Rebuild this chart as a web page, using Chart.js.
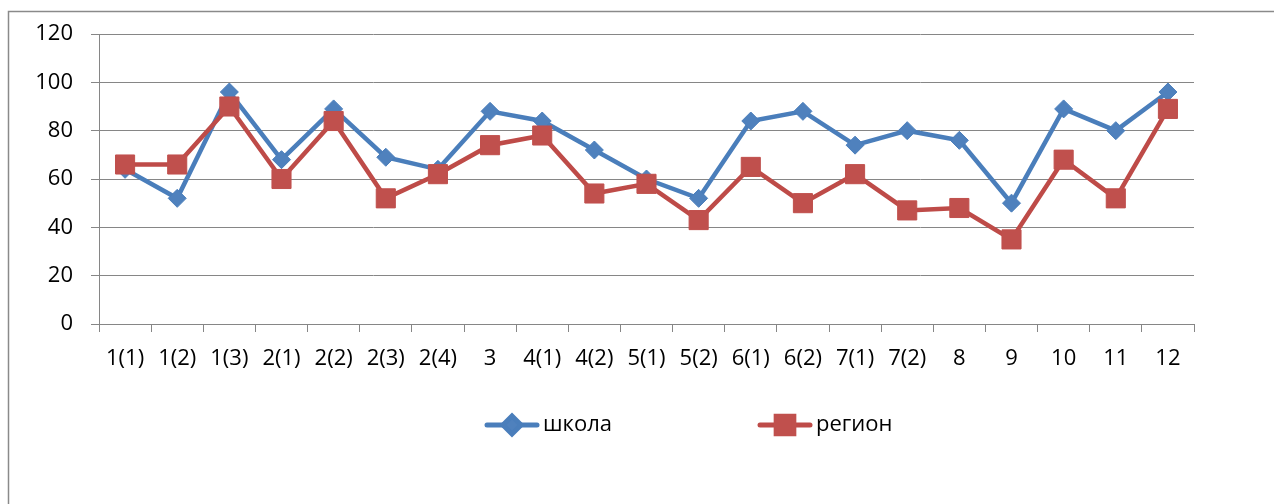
<!DOCTYPE html>
<html>
<head>
<meta charset="utf-8">
<script src="https://cdn.jsdelivr.net/npm/chart.js@4/dist/chart.umd.min.js"></script>
<style>
    html, body { margin: 0; padding: 0; background: #ffffff; }
    #wrap { position: relative; width: 1274px; height: 504px; }
</style>
</head>
<body>
<div id="wrap"><canvas id="lineChart" width="1274" height="504"></canvas></div>
<script>
var categories = ['1(1)', '1(2)', '1(3)', '2(1)', '2(2)', '2(3)', '2(4)', '3', '4(1)', '4(2)', '5(1)',
    '5(2)', '6(1)', '6(2)', '7(1)', '7(2)', '8', '9', '10', '11', '12'];
var schoolValues = [64, 52, 96, 68, 89, 69, 64, 88, 84, 72, 60, 52, 84, 88, 74, 80, 76, 50, 89, 80, 96];
var regionValues = [66, 66, 90, 60, 84, 52, 62, 74, 78, 54, 58, 43, 65, 50, 62, 47, 48, 35, 68, 52, 89];
var seriesNames = ['школа', 'регион'];
var yTicks = [0, 20, 40, 60, 80, 100, 120];

var fontFamily = '"Open Sans", "Noto Sans", sans-serif';
var gridColor = '#868686';

// outer frame of the chart (only left/top edges are inside the picture)
var framePlugin = {
    id: 'frame',
    beforeDraw: function (chart) {
        var ctx = chart.ctx;
        ctx.save();
        ctx.strokeStyle = '#8a8a8a';
        ctx.lineWidth = 1.5;
        ctx.strokeRect(8.5, 11.5, 1400, 700);
        ctx.restore();
    }
};

// excel-like legend: line with marker, then the name
var legendPlugin = {
    id: 'lineLegend',
    afterDraw: function (chart) {
        var ctx = chart.ctx;
        var starts = [484, 757];
        var y = 425;
        ctx.save();
        chart.data.datasets.forEach(function (ds, i) {
            var x = starts[i];
            ctx.strokeStyle = ds.borderColor;
            ctx.lineWidth = 5;
            ctx.lineCap = 'round';
            ctx.beginPath();
            ctx.moveTo(x + 3, y);
            ctx.lineTo(x + 53, y);
            ctx.stroke();
            ctx.fillStyle = ds.pointBackgroundColor;
            ctx.strokeStyle = ds.pointBorderColor;
            Chart.helpers.drawPoint(ctx, {
                pointStyle: ds.pointStyle,
                radius: i === 0 ? 9 : 12.5,
                rotation: 0,
                borderWidth: 1
            }, x + 28, y);
            ctx.fillStyle = '#000000';
            ctx.font = '22px ' + fontFamily;
            ctx.textBaseline = 'middle';
            ctx.textAlign = 'left';
            ctx.fillText(ds.label, x + 59, y);
        });
        ctx.restore();
    }
};

document.addEventListener('DOMContentLoaded', function () {
    var lineChart = new Chart(document.getElementById('lineChart'), {
        type: 'line',
        data: {
            labels: categories,
            datasets: [{
                label: seriesNames[0],
                data: schoolValues,
                borderColor: '#4a7ebb',
                borderWidth: 4.5,
                pointStyle: 'rectRot',
                pointRadius: 9,
                pointBorderWidth: 1,
                pointBackgroundColor: '#4f81bd',
                pointBorderColor: '#4a7ebb',
                tension: 0,
                order: 1
            }, {
                label: seriesNames[1],
                data: regionValues,
                borderColor: '#be4b48',
                borderWidth: 4.5,
                pointStyle: 'rect',
                pointRadius: 13.5,
                pointBorderWidth: 1,
                pointBackgroundColor: '#c0504d',
                pointBorderColor: '#c0504d',
                tension: 0,
                order: 0
            }]
        },
        options: {
            responsive: false,
            animation: false,
            layout: {
                padding: { top: 34, right: 80, bottom: 120, left: 0 }
            },
            plugins: {
                legend: { display: false },
                tooltip: { enabled: false }
            },
            scales: {
                x: {
                    offset: true,
                    grid: {
                        offset: true,
                        drawOnChartArea: false,
                        drawTicks: true,
                        tickLength: 8,
                        color: gridColor
                    },
                    border: { display: true, color: gridColor },
                    ticks: {
                        autoSkip: false,
                        maxRotation: 0,
                        padding: 14,
                        color: '#000000',
                        font: { family: fontFamily, size: 22 }
                    },
                    afterFit: function (scale) {
                        scale.height = 60;
                    }
                },
                y: {
                    min: yTicks[0],
                    max: yTicks[yTicks.length - 1],
                    afterBuildTicks: function (scale) {
                        scale.ticks = yTicks.map(function (v) { return { value: v }; });
                    },
                    grid: {
                        drawTicks: true,
                        tickLength: 8,
                        color: gridColor
                    },
                    border: { display: true, color: gridColor },
                    ticks: {
                        padding: 18,
                        color: '#000000',
                        font: { family: fontFamily, size: 22 }
                    },
                    afterFit: function (scale) {
                        scale.width = 99;
                    }
                }
            }
        },
        plugins: [framePlugin, legendPlugin]
    });
});
</script>
</body>
</html>
